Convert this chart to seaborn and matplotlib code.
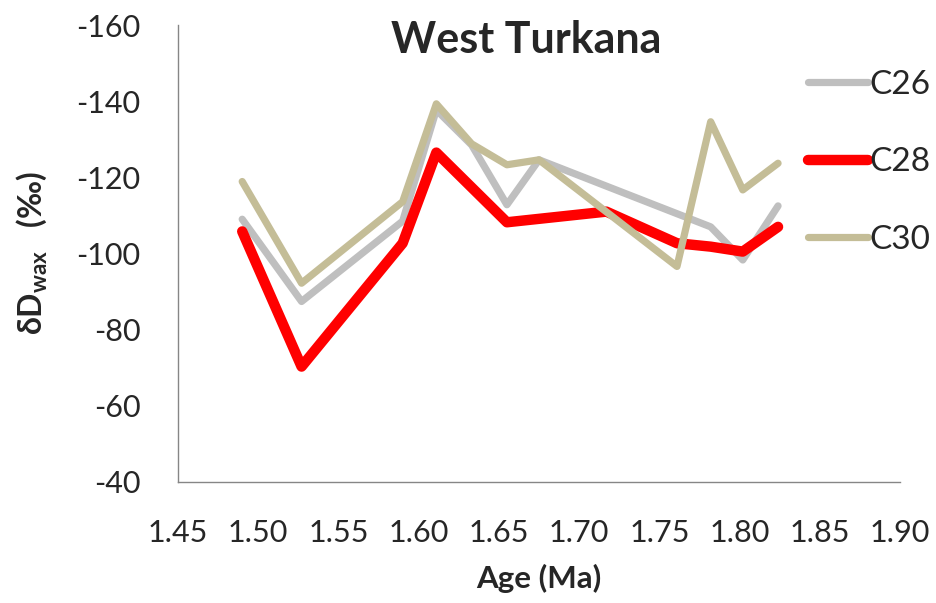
import pandas as pd
import seaborn as sns
import matplotlib.pyplot as plt

# values
c26_age = [1.490, 1.527, 1.590, 1.611, 1.633, 1.655, 1.675, 1.782, 1.802, 1.824]
c26_dd = [-109.0, -87.4, -108.5, -137.7, -128.5, -112.8, -124.6, -107.0, -98.3, -112.5]

c28_age = [1.490, 1.527, 1.590, 1.611, 1.655, 1.717, 1.761, 1.782, 1.802, 1.824]
c28_dd = [-105.8, -70.3, -102.7, -126.5, -108.2, -111.0, -102.7, -101.8, -100.5, -107.0]

c30_age = [1.490, 1.527, 1.590, 1.611, 1.633, 1.655, 1.675, 1.761, 1.782, 1.802, 1.824]
c30_dd = [-118.9, -92.2, -113.6, -139.3, -128.8, -123.3, -124.6, -96.6, -134.6, -116.7, -123.7]

x_ticks = [1.45, 1.50, 1.55, 1.60, 1.65, 1.70, 1.75, 1.80, 1.85, 1.90]
y_ticks = [-160, -140, -120, -100, -80, -60, -40]

df = pd.concat([
    pd.DataFrame({'age': c26_age, 'dd': c26_dd, 'series': 'C26'}),
    pd.DataFrame({'age': c28_age, 'dd': c28_dd, 'series': 'C28'}),
    pd.DataFrame({'age': c30_age, 'dd': c30_dd, 'series': 'C30'}),
], ignore_index=True)

sns.set_style('white')
plt.rcParams['font.family'] = ['Lato', 'DejaVu Sans']
plt.rcParams['mathtext.fontset'] = 'custom'
plt.rcParams['mathtext.rm'] = 'Lato'
plt.rcParams['mathtext.bf'] = 'Lato:bold'

palette = {'C26': '#BFBFBF', 'C28': '#FF0000', 'C30': '#C4BD97'}
widths = {'C26': 5.2, 'C28': 7.5, 'C30': 5.2}

fig = plt.figure(figsize=(9.37, 6.03), dpi=100)
ax = fig.add_axes([0.19, 0.2007, 0.7705, 0.7578])

sns.lineplot(data=df, x='age', y='dd', hue='series', size='series',
             palette=palette, sizes=widths, estimator=None, sort=False,
             solid_capstyle='round', solid_joinstyle='round', ax=ax)

ax.set_xlim(1.45, 1.90)
ax.set_ylim(-40, -160)
ax.set_xticks(x_ticks)
ax.set_xticklabels([f'{v:.2f}' for v in x_ticks])
ax.set_yticks(y_ticks)
ax.set_yticklabels([str(v) for v in y_ticks])
ax.tick_params(axis='both', labelsize=22, length=7, width=1, color='#868686',
               direction='out')
ax.tick_params(axis='x', pad=20)
ax.tick_params(axis='y', pad=20)
for s in ['top', 'right']:
    ax.spines[s].set_visible(False)
for s in ['left', 'bottom']:
    ax.spines[s].set_color('#868686')
    ax.spines[s].set_linewidth(1)

ax.set_title('West Turkana', fontsize=31, fontweight='bold', pad=-20, x=0.482, y=1.0)
ax.set_xlabel('Age (Ma)', fontsize=22.5, fontweight='bold', labelpad=12)
ax.set_ylabel(r'$\mathbf{\delta D_{wax}}$   (‰)', fontsize=23, fontweight='bold', labelpad=20)

handles, labels = ax.get_legend_handles_labels()
ax.legend(handles, labels, loc='upper left', bbox_to_anchor=(808 / 937, 1 - 70 / 603),
          bbox_transform=fig.transFigure, frameon=False, fontsize=24,
          handlelength=1.8, handletextpad=0.05, labelspacing=1.42,
          borderpad=0, borderaxespad=0)

fig.savefig('out.png', dpi=100)
